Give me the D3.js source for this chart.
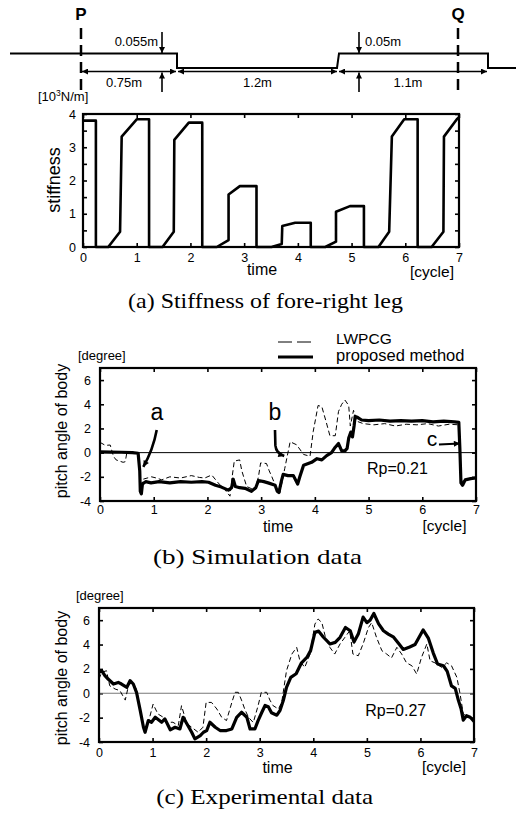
<!DOCTYPE html>
<html><head><meta charset="utf-8">
<script src="https://cdn.jsdelivr.net/npm/d3@7"></script>
<style>body{margin:0;background:#fff}</style>
</head><body>
<svg id="c" width="516" height="813" xmlns="http://www.w3.org/2000/svg"></svg>
<script>
// ---------------- DATA ----------------
const timeTicks = [0,1,2,3,4,5,6,7];
const stiffLabels = [0,1,2,3,4];
const stiffTicks = [0,0.5,1,1.5,2,2.5,3,3.5,4];
const pitchTicks = [-4,-2,0,2,4,6];
const segLabels = ["0.75m","1.2m","1.1m"];
const stepLabels = ["0.055m","0.05m"];
const seriesNames = ["LWPCG","proposed method"];

// stiffness of fore-right leg [10^3 N/m] vs time [cycle]
const stiffness = [[0,3.8],[0.24,3.8],[0.24,0],[0.47,0],[0.69,0.46],[0.72,3.32],[1.0,3.84],[1.23,3.84],[1.23,0],
 [1.48,0],[1.69,0.46],[1.70,3.22],[1.97,3.74],[2.22,3.74],[2.22,0],
 [2.49,0],[2.71,0.21],[2.71,1.58],[2.92,1.83],[3.23,1.83],[3.23,0],
 [3.51,0],[3.70,0.09],[3.71,0.63],[3.95,0.73],[4.24,0.73],[4.24,0],
 [4.51,0],[4.71,0.16],[4.71,1.06],[4.97,1.23],[5.23,1.23],[5.23,0],
 [5.50,0],[5.70,0.46],[5.75,3.32],[5.98,3.84],[6.23,3.84],[6.23,0],
 [6.49,0],[6.71,0.46],[6.72,3.32],[6.96,3.84],[7.0,3.9]];

// (b) simulation: pitch angle [degree]
const simProposed = [[0,0.07],[0.2,0.05],[0.4,0.03],[0.6,0.0],[0.71,-0.05],[0.74,-1.5],[0.75,-3.2],[0.77,-3.4],[0.79,-2.6],
 [0.85,-2.4],[0.95,-2.5],[1.1,-2.4],[1.3,-2.5],[1.5,-2.4],[1.7,-2.45],[1.9,-2.4],[2.02,-2.45],[2.15,-2.7],[2.26,-2.85],
 [2.39,-3.1],[2.45,-2.9],[2.48,-2.2],[2.52,-2.8],[2.6,-2.9],[2.7,-2.95],[2.82,-3.2],[2.9,-2.9],[2.95,-2.3],[3.05,-2.4],
 [3.13,-2.5],[3.26,-2.7],[3.3,-3.2],[3.33,-3.3],[3.38,-2.3],[3.41,-1.8],[3.5,-1.9],[3.6,-1.9],[3.68,-2.6],[3.72,-2.0],
 [3.79,-1.05],[3.94,-0.8],[4.04,-0.5],[4.13,-0.6],[4.22,-0.25],[4.31,0.0],[4.38,0.45],[4.44,0.75],[4.5,0.15],[4.56,0.15],
 [4.6,0.35],[4.63,1.2],[4.67,1.7],[4.7,1.3],[4.73,2.2],[4.75,3.0],[4.8,2.9],[4.87,2.7],[5.0,2.65],[5.2,2.7],[5.4,2.6],
 [5.6,2.65],[5.8,2.6],[6.0,2.65],[6.2,2.55],[6.4,2.6],[6.6,2.55],[6.68,2.5],[6.7,0.3],[6.72,-2.5],[6.75,-2.7],[6.8,-2.25],
 [6.9,-2.15],[7.0,-2.1]];
const simLWPCG = [[0,0.85],[0.1,0.6],[0.19,0.63],[0.25,-0.3],[0.3,-0.6],[0.43,-0.8],[0.47,-0.75],[0.5,0],[0.6,0.05],[0.71,0],
 [0.74,-1.5],[0.77,-3.0],[0.8,-2.2],[0.96,-2.0],[1.05,-2.1],[1.15,-2.25],[1.3,-2.0],[1.5,-2.1],[1.7,-1.9],[1.85,-2.05],
 [1.95,-2.1],[2.08,-1.85],[2.2,-2.5],[2.33,-3.1],[2.42,-3.6],[2.46,-2.0],[2.5,-0.7],[2.6,-0.6],[2.64,-1.5],[2.73,-2.8],
 [2.88,-3.1],[2.95,-2.0],[2.99,-0.85],[3.1,-0.9],[3.15,-1.5],[3.2,-2.0],[3.29,-3.0],[3.35,-3.3],[3.44,-1.3],[3.54,0.9],
 [3.66,0.65],[3.79,-0.15],[3.91,-0.3],[3.97,1.76],[4.06,3.9],[4.13,3.8],[4.21,2.55],[4.28,1.4],[4.38,1.4],[4.44,3.4],
 [4.5,4.0],[4.56,4.35],[4.63,3.9],[4.66,2.2],[4.72,3.5],[4.78,2.6],[4.9,2.4],[5.1,2.3],[5.3,2.4],[5.5,2.2],[5.7,2.35],
 [5.9,2.3],[6.1,2.4],[6.3,2.2],[6.5,2.35],[6.68,2.3],[6.7,0],[6.72,-2.4],[6.8,-2.3],[7.0,-2.0]];

// (c) experiment: pitch angle [degree]
const expProposed = [[0,1.72],[0.05,1.85],[0.11,1.44],[0.17,1.17],[0.27,0.76],[0.36,0.89],[0.42,0.76],[0.52,0.49],[0.58,1.04],
 [0.64,0.76],[0.70,0.08],[0.77,-1.42],[0.83,-2.79],[0.86,-3.2],[0.92,-2.24],[0.98,-2.38],[1.05,-1.97],[1.17,-2.38],[1.23,-2.1],
 [1.33,-3.0],[1.42,-2.79],[1.51,-2.93],[1.57,-1.97],[1.64,-2.5],[1.73,-3.2],[1.79,-3.74],[1.89,-3.47],[1.95,-3.2],[2.01,-3.06],
 [2.07,-2.38],[2.17,-2.79],[2.26,-3.06],[2.38,-3.06],[2.48,-2.93],[2.57,-1.97],[2.66,-1.56],[2.76,-1.97],[2.82,-2.93],
 [2.91,-2.93],[2.97,-2.24],[3.04,-1.56],[3.10,-1.0],[3.16,-1.1],[3.22,-1.6],[3.32,-1.8],[3.38,-1.4],[3.44,-0.6],[3.50,0.49],
 [3.58,1.31],[3.68,1.6],[3.78,2.5],[3.88,2.94],[3.95,3.5],[4.03,5.0],[4.10,5.1],[4.19,4.6],[4.31,4.05],[4.41,4.18],
 [4.50,4.59],[4.60,5.4],[4.69,5.13],[4.76,4.2],[4.84,4.86],[4.93,6.25],[5.00,5.8],[5.06,6.0],[5.13,6.55],[5.22,5.7],
 [5.31,5.13],[5.40,4.86],[5.50,4.6],[5.59,4.1],[5.68,3.6],[5.80,3.8],[5.90,4.0],[6.05,5.2],[6.15,4.5],[6.24,3.3],
 [6.32,2.4],[6.43,2.26],[6.50,1.8],[6.58,0.6],[6.65,0.4],[6.71,-0.6],[6.76,-1.3],[6.80,-2.2],[6.86,-1.84],[6.93,-1.97],
 [7.0,-2.3]];
const expLWPCG = [[0,1.17],[0.05,1.72],[0.14,1.85],[0.2,0.62],[0.3,0.35],[0.39,0.22],[0.49,-0.56],[0.55,0.62],[0.61,0.89],
 [0.7,0.35],[0.77,-1.4],[0.83,-2.8],[0.86,-3.1],[0.92,-2.4],[1.01,-0.89],[1.1,-1.7],[1.2,-1.97],[1.26,-2.38],[1.38,-2.38],
 [1.48,-2.65],[1.54,-1.02],[1.64,-2.5],[1.73,-2.79],[1.85,-3.2],[1.94,-2.79],[2.0,-0.75],[2.1,-0.75],[2.2,-1.29],[2.29,-1.97],
 [2.38,-2.24],[2.48,-0.75],[2.54,0.08],[2.6,0.08],[2.66,-0.56],[2.72,-1.29],[2.79,-1.97],[2.88,-2.4],[2.97,-1.02],[3.03,0.08],
 [3.13,0.08],[3.19,-0.56],[3.25,-1.02],[3.35,-1.29],[3.41,-0.75],[3.5,1.85],[3.6,3.22],[3.69,3.77],[3.75,2.67],[3.84,2.12],
 [3.94,3.22],[4.03,5.68],[4.09,6.1],[4.16,5.8],[4.22,4.73],[4.31,3.77],[4.4,3.22],[4.5,4.05],[4.59,4.59],[4.68,5.13],
 [4.74,3.22],[4.84,3.08],[4.93,4.05],[5.03,5.4],[5.09,5.8],[5.18,4.59],[5.28,3.5],[5.37,3.22],[5.46,2.9],[5.56,3.77],
 [5.65,3.22],[5.74,2.5],[5.84,2.26],[5.93,1.58],[6.02,2.94],[6.12,4.05],[6.18,2.67],[6.27,2.5],[6.4,2.12],[6.49,2.5],
 [6.58,2.26],[6.68,1.31],[6.74,-0.05],[6.8,-1.7],[6.89,-1.97],[7.0,-2.1]];

// ---------------- DRAWING ----------------
const sans = "'Liberation Sans', Arial, Helvetica, sans-serif";
const serif = "'Liberation Serif', 'Times New Roman', serif";
const svg = d3.select("#c");
const defs = svg.append("defs");
function marker(id, w, h){
  defs.append("marker").attr("id",id).attr("viewBox","0 0 10 10").attr("refX",10).attr("refY",5)
    .attr("markerWidth",w).attr("markerHeight",h).attr("markerUnits","userSpaceOnUse")
    .attr("orient","auto-start-reverse").append("path").attr("d","M0,0L10,5L0,10z").attr("fill","#000");
}
marker("ah",12,6); marker("ahv",10,6); marker("ahl",15,6); marker("ahs",11,6);

function txt(x,y,s,size,anchor,fam,extra){
  const t = svg.append("text").attr("x",x).attr("y",y).attr("font-family",fam||sans).attr("font-size",size)
    .attr("text-anchor",anchor||"middle").attr("fill","#000").text(s);
  if(extra) extra(t);
  return t;
}
function caption(x,y,s,len){
  // natural Liberation Serif width at 22px, then scaled horizontally to the reference width
  const t = txt(0,0,s,22,"middle",serif);
  const w = t.node().getComputedTextLength();
  t.attr("x",null).attr("y",null).attr("transform",`translate(${x},${y}) scale(${len/w},1)`);
  return t;
}

// ---- top schematic ----
const yHi = 53.5, yLo = 68, yDim = 71.5;
const bx = [81,177,338,488];
svg.append("path").attr("d",`M10,${yHi}H${bx[1]}V${yLo}H${bx[2]-1}L${bx[2]+1},${yHi}H${bx[3]}V${yLo}H516`)
  .attr("fill","none").attr("stroke","#000").attr("stroke-width",2);
[81,458].forEach(x=>svg.append("line").attr("x1",x).attr("x2",x).attr("y1",28).attr("y2",92)
  .attr("stroke","#000").attr("stroke-width",2.5).attr("stroke-dasharray","11,6"));
txt(81,20,"P",17,"middle",sans,t=>t.attr("font-weight","bold"));
txt(458,20,"Q",17,"middle",sans,t=>t.attr("font-weight","bold"));
for(let i=0;i<3;i++){
  svg.append("line").attr("x1",bx[i]+1).attr("x2",bx[i+1]-1).attr("y1",yDim).attr("y2",yDim)
    .attr("stroke","#000").attr("stroke-width",1.6).attr("marker-start","url(#ah)").attr("marker-end","url(#ah)");
  txt((bx[i]+bx[i+1])/2 + (i===0?-5:(i===2?-5:0)),86.5,segLabels[i],13,"middle");
}
[162,359].forEach((x,i)=>{
  svg.append("line").attr("x1",x).attr("x2",x).attr("y1",32).attr("y2",yHi-0.5)
    .attr("stroke","#000").attr("stroke-width",1.6).attr("marker-end","url(#ahv)");
  svg.append("line").attr("x1",x).attr("x2",x).attr("y1",92).attr("y2",yDim+1)
    .attr("stroke","#000").attr("stroke-width",1.6).attr("marker-end","url(#ahv)");
  if(i===0) txt(x-4,46,stepLabels[0],13,"end"); else txt(x+6,46,stepLabels[1],13,"start");
});

// ---- generic panel ----
function panel(box, yDom, opt){
  const x = d3.scaleLinear().domain([0,7]).range([box.l,box.r]);
  const y = d3.scaleLinear().domain(yDom).range([box.b,box.t]);
  const style = s=>{ s.select(".domain").remove();
    s.selectAll("line").attr("stroke","#000").attr("stroke-width",1.6);
    s.selectAll("text").attr("font-family",sans).attr("font-size",12.5).attr("fill","#000"); };
  const g = svg.append("g");
  g.append("g").attr("transform",`translate(0,${box.b})`)
    .call(d3.axisBottom(x).tickValues(timeTicks).tickSizeInner(-4).tickSizeOuter(0).tickPadding(opt.xpad).tickFormat(String)).call(style);
  g.append("g").attr("transform",`translate(0,${box.t})`)
    .call(d3.axisTop(x).tickValues(timeTicks).tickSizeInner(-4).tickSizeOuter(0).tickFormat("")).call(style);
  g.append("g").attr("transform",`translate(${box.l},0)`)
    .call(d3.axisLeft(y).tickValues(opt.yTicks).tickSizeInner(-4).tickSizeOuter(0).tickPadding(opt.ypad)
      .tickFormat(v=>opt.yLabels.includes(v)?String(v):"")).call(style);
  g.append("g").attr("transform",`translate(${box.r},0)`)
    .call(d3.axisRight(y).tickValues(opt.yTicks).tickSizeInner(-4).tickSizeOuter(0).tickFormat("")).call(style);
  return {x,y,g};
}
const lineGen = (x,y)=>d3.line().x(d=>x(d[0])).y(d=>y(d[1]));
function frame(box){
  svg.append("rect").attr("x",box.l).attr("y",box.t).attr("width",box.r-box.l).attr("height",box.b-box.t)
    .attr("fill","none").attr("stroke","#000").attr("stroke-width",2.2);
}

// ---- panel (a) ----
const boxA = {l:83,r:459,t:114,b:247};
const pA = panel(boxA,[0,4],{xpad:6,ypad:7,yTicks:stiffTicks,yLabels:stiffLabels});
svg.append("path").datum(stiffness).attr("d",lineGen(pA.x,pA.y)).attr("fill","none")
  .attr("stroke","#000").attr("stroke-width",2.6).attr("stroke-linejoin","round");
frame(boxA);
txt(60,180,"stiffness",18,"middle",sans,t=>t.attr("transform","rotate(-90,60,180)"));
const unitA = txt(38,101,"",13,"start");
unitA.append("tspan").text("[10");
unitA.append("tspan").attr("font-size",8.5).attr("dy",-5).text("3");
unitA.append("tspan").attr("dy",5).text("N/m]");
txt(262,275,"time",16);
txt(432,277,"[cycle]",15.5);
caption(265.5,308,"(a) Stiffness of fore-right leg",275);

// ---- panel (b) ----
const boxB = {l:100,r:476,t:368,b:501};
const pB = panel(boxB,[-4,7],{xpad:4.5,ypad:9,yTicks:pitchTicks,yLabels:pitchTicks});
svg.append("line").attr("x1",boxB.l).attr("x2",boxB.r).attr("y1",pB.y(0)).attr("y2",pB.y(0))
  .attr("stroke","#000").attr("stroke-width",1);
svg.append("path").datum(simLWPCG).attr("d",lineGen(pB.x,pB.y)).attr("fill","none")
  .attr("stroke","#000").attr("stroke-width",1).attr("stroke-dasharray","5,3");
svg.append("path").datum(simProposed).attr("d",lineGen(pB.x,pB.y)).attr("fill","none")
  .attr("stroke","#000").attr("stroke-width",3.2).attr("stroke-linejoin","round");
frame(boxB);
// annotations (data coords)
txt(pB.x(1.06),pB.y(2.7),"a",23);
svg.append("path").attr("d",`M${pB.x(1.056)},${pB.y(1.87)}Q${pB.x(0.987)},${pB.y(0.22)} ${pB.x(0.806)},${pB.y(-1.17)}`)
  .attr("fill","none").attr("stroke","#000").attr("stroke-width",2.6).attr("marker-end","url(#ahl)");
txt(pB.x(3.258),pB.y(2.7),"b",23);
svg.append("path").attr("d",`M${pB.x(3.258)},${pB.y(1.87)}L${pB.x(3.265)},${pB.y(0.6)}Q${pB.x(3.277)},${pB.y(-0.05)} ${pB.x(3.43)},${pB.y(-0.28)}`)
  .attr("fill","none").attr("stroke","#000").attr("stroke-width",2.6).attr("marker-end","url(#ahl)");
txt(pB.x(6.18),pB.y(0.55),"c",21);
svg.append("line").attr("x1",pB.x(6.31)).attr("y1",pB.y(0.67)).attr("x2",pB.x(6.70)).attr("y2",pB.y(0.75))
  .attr("stroke","#000").attr("stroke-width",2).attr("marker-end","url(#ahs)");
txt(pB.x(4.97),pB.y(-1.77),"Rp=0.21",16,"start");
// legend
svg.append("line").attr("x1",278).attr("x2",313).attr("y1",342).attr("y2",342)
  .attr("stroke","#000").attr("stroke-width",1).attr("stroke-dasharray","14,5");
svg.append("line").attr("x1",278).attr("x2",313).attr("y1",357).attr("y2",357)
  .attr("stroke","#000").attr("stroke-width",3.2);
txt(336,344,seriesNames[0],15.5,"start");
txt(336,360.5,seriesNames[1],16.5,"start");
txt(78,360,"[degree]",13,"start");
txt(67,431,"pitch angle of body",16,"middle",sans,t=>t.attr("transform","rotate(-90,67,431)"));
txt(278,532,"time",16);
txt(444.5,531,"[cycle]",15.5);
caption(257.5,564,"(b) Simulation data",209);

// ---- panel (c) ----
const boxC = {l:99,r:474,t:608,b:742};
const pC = panel(boxC,[-4,7],{xpad:6,ypad:9,yTicks:pitchTicks,yLabels:pitchTicks});
svg.append("line").attr("x1",boxC.l).attr("x2",boxC.r).attr("y1",pC.y(0)).attr("y2",pC.y(0))
  .attr("stroke","#777").attr("stroke-width",1.2);
svg.append("path").datum(expLWPCG).attr("d",lineGen(pC.x,pC.y)).attr("fill","none")
  .attr("stroke","#000").attr("stroke-width",1).attr("stroke-dasharray","5,3");
svg.append("path").datum(expProposed).attr("d",lineGen(pC.x,pC.y)).attr("fill","none")
  .attr("stroke","#000").attr("stroke-width",3.2).attr("stroke-linejoin","round");
frame(boxC);
txt(pC.x(4.97),pC.y(-1.9),"Rp=0.27",16,"start");
txt(76,600,"[degree]",13,"start");
txt(67,678,"pitch angle of body",16,"middle",sans,t=>t.attr("transform","rotate(-90,67,678)"));
txt(277.5,773,"time",16);
txt(444,772,"[cycle]",15.5);
caption(264.7,804,"(c) Experimental data",217);
</script>
</body></html>
